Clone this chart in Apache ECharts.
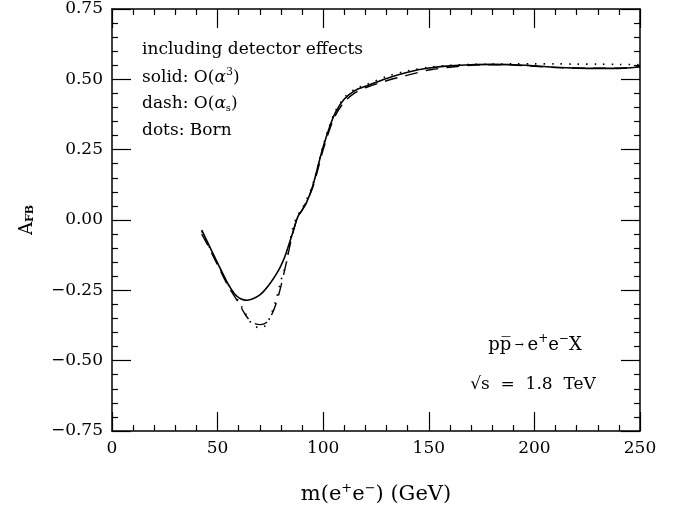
<!DOCTYPE html>
<html>
<head>
<meta charset="utf-8">
<script src="https://cdn.jsdelivr.net/npm/echarts@6/dist/echarts.min.js"></script>
<style>html,body{margin:0;padding:0;background:#fff;}#c{width:689px;height:506px;}</style>
</head>
<body>
<div id="c"></div>
<script>
// ---- data ----
var xTicks = [0, 50, 100, 150, 200, 250];
var yTicks = [-0.75, -0.5, -0.25, 0, 0.25, 0.5, 0.75];

var massSolid = [42.5,45,50,55,58,60,62,64,67,70,72,75,78,80,82,84,86,88,90,92,95,98,100,103,106,110,115,120,130,140,150,160,170,180,190,200,210,220,230,240,250];
var afbSolid  = [-0.036,-0.075,-0.153,-0.228,-0.262,-0.276,-0.283,-0.285,-0.279,-0.266,-0.252,-0.224,-0.19,-0.162,-0.127,-0.082,-0.035,0.012,0.035,0.06,0.12,0.205,0.26,0.33,0.385,0.43,0.46,0.475,0.503,0.525,0.54,0.548,0.552,0.553,0.552,0.548,0.543,0.54,0.539,0.539,0.545];

var massDash = [42.5,45,50,55,60,63,66,70,73,76,78,80,82,84,86,88,90,95,100,105,110,115,120,130,140,150,160,170,180,190,200,210,220,230,240,250];
var afbDash  = [-0.05,-0.085,-0.16,-0.235,-0.295,-0.335,-0.362,-0.372,-0.365,-0.33,-0.29,-0.235,-0.17,-0.1,-0.035,0.012,0.035,0.115,0.25,0.36,0.42,0.452,0.47,0.495,0.515,0.533,0.543,0.55,0.552,0.551,0.546,0.542,0.54,0.54,0.54,0.545];

var massBorn = [42.5,45,50,55,60,63,66,70,73,76,78,80,82.7,85,87.5,90,95,100,105,110,115,120,130,140,150,160,170,180,190,200,210,220,230,240,250];
var afbBorn  = [-0.04,-0.08,-0.155,-0.23,-0.29,-0.33,-0.367,-0.384,-0.372,-0.322,-0.275,-0.215,-0.148,-0.046,0.012,0.04,0.125,0.265,0.375,0.435,0.465,0.48,0.51,0.53,0.543,0.55,0.553,0.554,0.555,0.555,0.555,0.554,0.554,0.553,0.552];

function pairs(xs, ys){ return xs.map(function(x,i){ return [x, ys[i]]; }); }

var FONT = 'DejaVu Serif';
var chart = echarts.init(document.getElementById('c'), null, {renderer:'canvas'});

function baseAxis(extra){
  var a = {
    axisLine:{show:true, onZero:false, lineStyle:{color:'#000', width:1.5}},
    axisTick:{show:true, inside:true, length:19, lineStyle:{color:'#000', width:1.2}},
    minorTick:{show:true, splitNumber:5, length:6, lineStyle:{color:'#000', width:1.2}},
    splitLine:{show:false},
    axisLabel:{show:false}
  };
  for (var k in extra) a[k] = extra[k];
  return a;
}

var option = {
  backgroundColor:'#fff',
  animation:false,
  grid:{left:112, right:49, top:9, bottom:75, containLabel:false, outerBoundsMode:'none'},
  xAxis:[
    baseAxis({type:'value', position:'bottom', min:xTicks[0], max:xTicks[xTicks.length-1], interval:50,
      axisLabel:{show:true, color:'#000', fontFamily:FONT, fontSize:17, margin:9},
      name:'{t|m(e}{s|+}{t|e}{s|\u2212}{t|) (GeV)}', nameLocation:'middle', nameGap:51,
      nameTextStyle:{rich:{
        t:{fontFamily:FONT, fontSize:21, color:'#000', verticalAlign:'middle'},
        s:{fontFamily:FONT, fontSize:13, color:'#000', verticalAlign:'middle', padding:[0,0,13,0]}
      }}
    }),
    baseAxis({type:'value', position:'top', min:0, max:250, interval:50})
  ],
  yAxis:[
    baseAxis({type:'value', position:'left', min:yTicks[0], max:yTicks[yTicks.length-1], interval:0.25,
      axisLabel:{show:true, color:'#000', fontFamily:FONT, fontSize:17, margin:9,
        formatter:function(v){ var s = Math.abs(v).toFixed(2); return (v < -1e-9 ? '\u2212' : '') + s; }},
      name:'{a|A}{b|FB}', nameLocation:'middle', nameGap:76, nameRotate:90,
      nameTextStyle:{rich:{
        a:{fontFamily:FONT, fontSize:18, color:'#000', verticalAlign:'middle'},
        b:{fontFamily:FONT, fontSize:11, fontWeight:'bold', color:'#000', verticalAlign:'middle', padding:[7,0,0,0]}
      }}
    }),
    baseAxis({type:'value', position:'right', min:-0.75, max:0.75, interval:0.25})
  ],
  series:[
    {type:'line', name:'solid', data:pairs(massSolid, afbSolid), showSymbol:false, smooth:0.35,
      lineStyle:{color:'#000', width:1.6, type:'solid'}},
    {type:'line', name:'dash', data:pairs(massDash, afbDash), showSymbol:false, smooth:0.3,
      lineStyle:{color:'#000', width:1.4, type:[13,8]}},
    {type:'line', name:'dots', data:pairs(massBorn, afbBorn), showSymbol:false, smooth:0.3,
      lineStyle:{color:'#000', width:1.6, type:[1.5,7]}}
  ],
  graphic:[
    {type:'text', x:142, y:50, style:{text:'including detector effects', font:'17px "DejaVu Serif"', fill:'#000', verticalAlign:'middle'}},
    {type:'text', x:142, y:78, style:{text:'{t|solid: O(}{g|\u03b1}{p|3}{t|)}', verticalAlign:'middle', rich:{
      t:{fontFamily:FONT, fontSize:17, color:'#000', verticalAlign:'middle'},
      g:{fontFamily:FONT, fontSize:17, fontStyle:'italic', color:'#000', verticalAlign:'middle'},
      p:{fontFamily:FONT, fontSize:11, color:'#000', verticalAlign:'middle', padding:[0,0,12,0]}
    }}},
    {type:'text', x:142, y:104, style:{text:'{t|dash: O(}{g|\u03b1}{b|s}{t|)}', verticalAlign:'middle', rich:{
      t:{fontFamily:FONT, fontSize:17, color:'#000', verticalAlign:'middle'},
      g:{fontFamily:FONT, fontSize:17, fontStyle:'italic', color:'#000', verticalAlign:'middle'},
      b:{fontFamily:FONT, fontSize:10, color:'#000', verticalAlign:'middle', padding:[9,0,0,0]}
    }}},
    {type:'text', x:142, y:131, style:{text:'dots: Born', font:'17px "DejaVu Serif"', fill:'#000', verticalAlign:'middle'}},
    {type:'text', x:535, y:345, style:{text:'{t|pp\u0305}{r| \u2192 }{t|e}{p|+}{t|e}{p|\u2212}{t|X}', align:'center', verticalAlign:'middle', rich:{
      t:{fontFamily:FONT, fontSize:18, color:'#000', verticalAlign:'middle'},
      r:{fontFamily:FONT, fontSize:11, color:'#000', verticalAlign:'middle'},
      p:{fontFamily:FONT, fontSize:12, color:'#000', verticalAlign:'middle', padding:[0,0,12,0]}
    }}},
    {type:'text', x:533, y:385, style:{text:'\u221as  =  1.8  TeV', font:'17px "DejaVu Serif"', fill:'#000', align:'center', verticalAlign:'middle'}}
  ]
};
chart.setOption(option);
</script>
</body>
</html>
